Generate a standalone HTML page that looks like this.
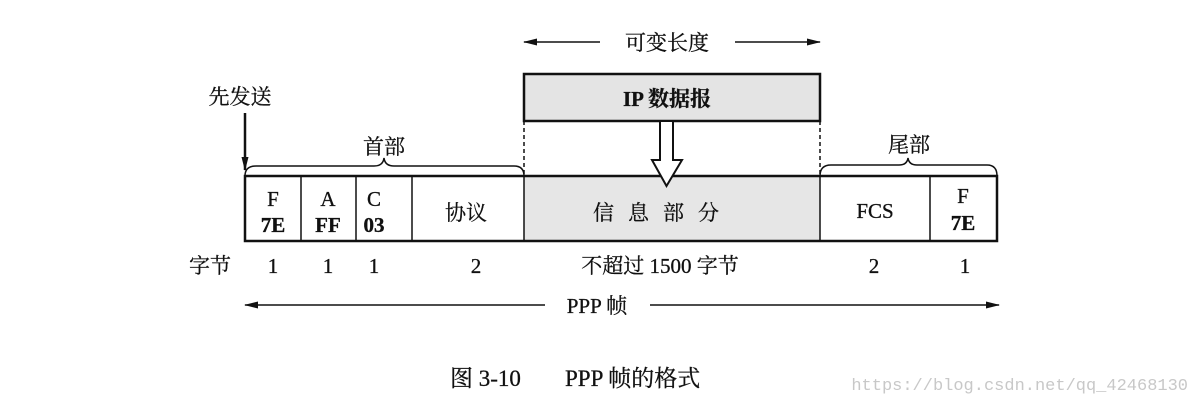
<!DOCTYPE html>
<html><head><meta charset="utf-8"><style>
html,body{margin:0;padding:0;background:#fff;}
svg{display:block;}
text{font-family:"Liberation Serif","Noto Serif CJK SC",serif;fill:#111;stroke:#111;stroke-width:0.3;}
</style></head><body>
<svg width="1201" height="404" viewBox="0 0 1201 404" xmlns="http://www.w3.org/2000/svg">
<defs>
<marker id="ah" markerWidth="14" markerHeight="10" refX="13" refY="5" orient="auto" markerUnits="userSpaceOnUse">
<path d="M0,1.5 L14,5 L0,8.5 z" fill="#111"/></marker>
</defs>
<line x1="600" y1="42" x2="524" y2="42" stroke="#111" stroke-width="1.5" marker-end="url(#ah)"/>
<line x1="735" y1="42" x2="820" y2="42" stroke="#111" stroke-width="1.5" marker-end="url(#ah)"/>
<text x="667" y="50" font-size="21" text-anchor="middle">可变长度</text>
<rect x="524" y="74" width="296" height="47" fill="#e4e4e4" stroke="#111" stroke-width="2.5"/>
<text x="667" y="106" font-size="21" font-weight="bold" text-anchor="middle">IP 数据报</text>
<line x1="524" y1="121" x2="524" y2="176" stroke="#111" stroke-width="1.5" stroke-dasharray="4,3"/>
<line x1="820" y1="121" x2="820" y2="176" stroke="#111" stroke-width="1.5" stroke-dasharray="4,3"/>
<text x="240" y="104" font-size="21" text-anchor="middle">先发送</text>
<line x1="245" y1="113" x2="245" y2="170" stroke="#111" stroke-width="2.5" marker-end="url(#ah)"/>
<text x="384" y="154" font-size="21" text-anchor="middle">首部</text>
<path d="M245,176 Q245,166 256,166 L374,166 Q383,166 384,158 Q385,166 394,166 L514,166 Q524,166 524,176" fill="none" stroke="#111" stroke-width="1.5"/>
<text x="909" y="152" font-size="21" text-anchor="middle">尾部</text>
<path d="M820,176 Q820,165 831,165 L899,165 Q907,165 908,158 Q909,165 917,165 L987,165 Q997,165 997,176" fill="none" stroke="#111" stroke-width="1.5"/>
<rect x="524" y="176" width="296" height="65" fill="#e6e6e6"/>
<rect x="245" y="176" width="752" height="65" fill="none" stroke="#111" stroke-width="2.5"/>
<g stroke="#111" stroke-width="1.5">
<line x1="301" y1="176" x2="301" y2="241"/>
<line x1="356" y1="176" x2="356" y2="241"/>
<line x1="412" y1="176" x2="412" y2="241"/>
<line x1="524" y1="176" x2="524" y2="241"/>
<line x1="820" y1="176" x2="820" y2="241"/>
<line x1="930" y1="176" x2="930" y2="241"/>
</g>
<path d="M660,121 L673,121 L673,160 L682,160 L666.5,186 L652,160 L660,160 Z" fill="#fff" stroke="#111" stroke-width="2"/>
<g font-size="21" text-anchor="middle">
<text x="273" y="206">F</text><text x="273" y="232" font-weight="bold">7E</text>
<text x="328" y="206">A</text><text x="328" y="232" font-weight="bold">FF</text>
<text x="374" y="206">C</text><text x="374" y="232" font-weight="bold">03</text>
<text x="466" y="220">协议</text>
<text x="663" y="220" letter-spacing="14">信息部分</text>
<text x="875" y="218">FCS</text>
<text x="963" y="203">F</text><text x="963" y="230" font-weight="bold">7E</text>
</g>
<g font-size="21" text-anchor="middle">
<text x="210" y="273">字节</text>
<text x="273" y="273">1</text><text x="328" y="273">1</text><text x="374" y="273">1</text>
<text x="476" y="273">2</text>
<text x="660" y="273">不超过 1500 字节</text>
<text x="874" y="273">2</text><text x="965" y="273">1</text>
</g>
<line x1="545" y1="305" x2="245" y2="305" stroke="#111" stroke-width="1.5" marker-end="url(#ah)"/>
<line x1="650" y1="305" x2="999" y2="305" stroke="#111" stroke-width="1.5" marker-end="url(#ah)"/>
<text x="597" y="313" font-size="21" text-anchor="middle">PPP 帧</text>
<text x="450" y="386" font-size="23">图 3-10</text>
<text x="565" y="386" font-size="23">PPP 帧的格式</text>
<text x="1188" y="390" font-size="17" text-anchor="end" style="font-family:'Liberation Mono',monospace;fill:#c8c8c8;stroke:none">https://blog.csdn.net/qq_42468130</text>
</svg>
</body></html>
